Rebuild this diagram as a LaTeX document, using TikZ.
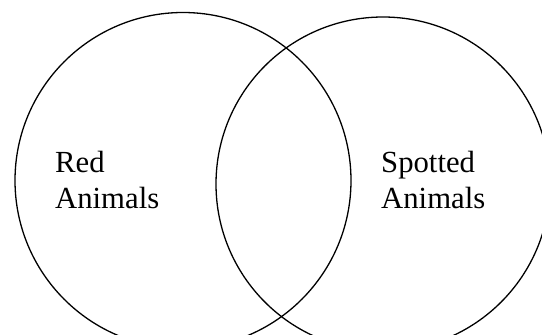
\documentclass[tikz,border=0pt]{standalone}
\usepackage{fontspec}
\setmainfont{Liberation Serif}
\tikzset{
  setcircle/.style={draw=black, line width=1.3pt, circle, inner sep=0pt},
  setlabel/.style={anchor=base west, align=left, inner sep=0pt,
    font=\fontsize{30.7pt}{36.7pt}\selectfont}
}
\begin{document}
\begin{tikzpicture}[x=1pt,y=1pt]
  \useasboundingbox (0,0) rectangle (542,335);
  \clip (0,0) rectangle (542,335);
  \node[setcircle, minimum size=336pt] (red) at (183,154.5) {};
  \node[setcircle, minimum size=334pt] (spotted) at (383,151) {};
  \node[setlabel] (redlabel) at (55,126) {Red\\Animals};
  \node[setlabel] (spottedlabel) at (381,126) {Spotted\\Animals};
\end{tikzpicture}
\end{document}
